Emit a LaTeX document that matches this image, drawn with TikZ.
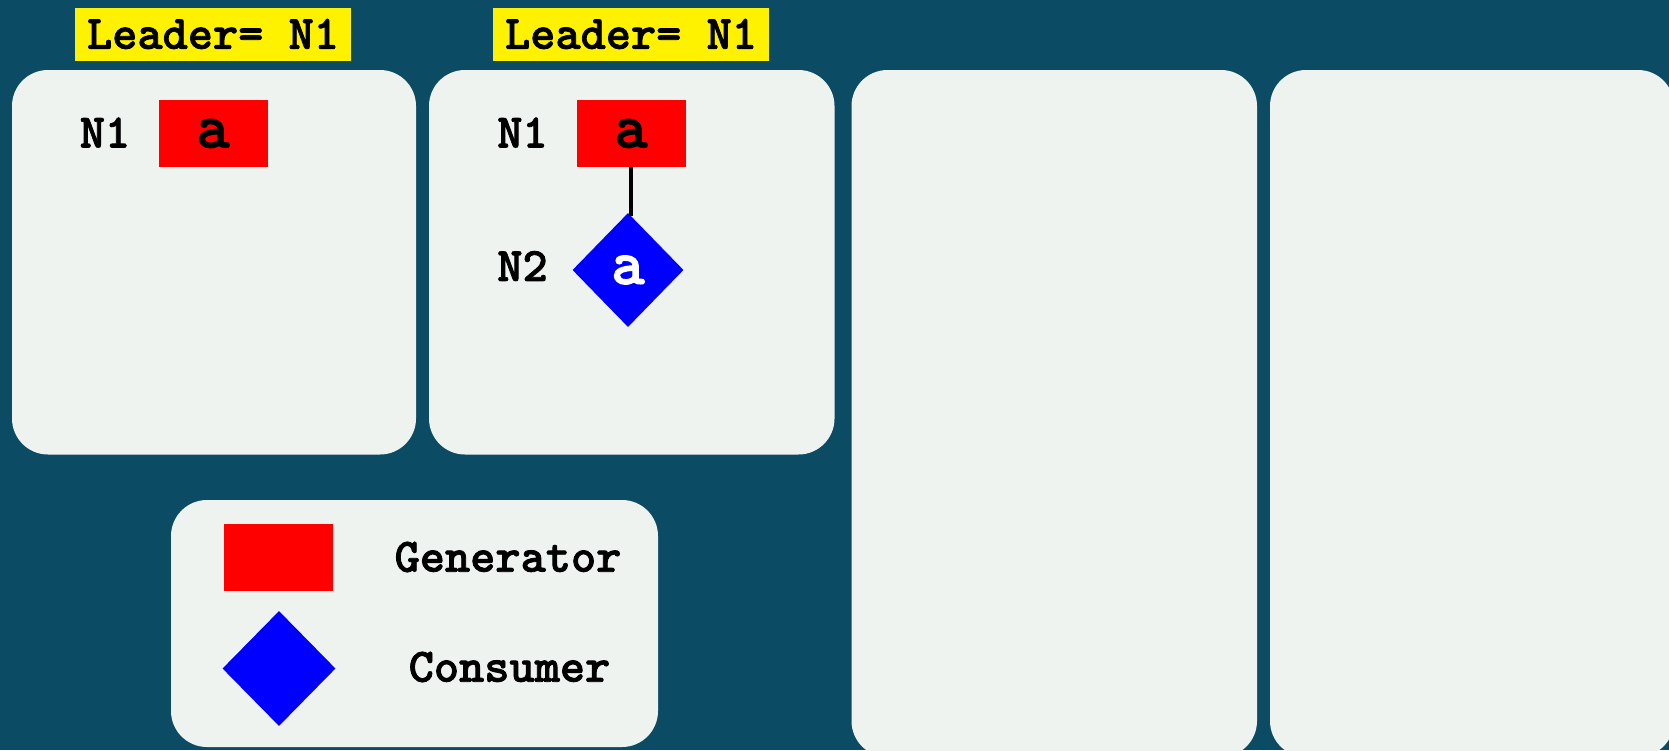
\documentclass[tikz,border=0pt]{standalone}
\usepackage{fontspec}
\newfontfamily\cour{lmmonolt10-bold.otf}[FakeBold=1.6]
\usetikzlibrary{shapes.geometric}
\definecolor{bg}{RGB}{11,75,99}
\definecolor{panel}{RGB}{239,243,240}
\begin{document}
\begin{tikzpicture}[x=1pt,y=-1pt,
 panelbox/.style={fill=panel, rounded corners=36pt, inner sep=0, draw=none},
 leaderlbl/.style={fill=yellow, minimum width=276pt, minimum height=53pt, inner sep=0, font=\cour\fontsize{48}{52}\selectfont},
 namelbl/.style={inner sep=0, font=\cour\fontsize{48}{52}\selectfont},
 gen/.style={rectangle, fill=red, minimum width=109pt, minimum height=67pt, inner sep=0, font=\cour\fontsize{64}{68}\selectfont},
 cons/.style={diamond, fill=blue, minimum width=111pt, minimum height=114pt, inner sep=0, text=white, font=\cour\fontsize{64}{68}\selectfont},
 link/.style={draw=black, line width=3.5pt}]
\fill[bg] (0,0) rectangle (1669,750);
\useasboundingbox (0,0) rectangle (1669,750);
% panels
\node[panelbox, minimum width=404pt, minimum height=384.5pt] (p1) at (214,262.25) {};
\node[panelbox, minimum width=405.5pt, minimum height=384.5pt] (p2) at (631.75,262.25) {};
\node[panelbox, minimum width=405.5pt, minimum height=687pt] (p3) at (1054.25,413.5) {};
\node[panelbox, minimum width=404pt, minimum height=687pt] (p4) at (1472,413.5) {};
\node[panelbox, minimum width=487pt, minimum height=247pt] (leg) at (414.5,623.5) {};
% leader labels
\node[leaderlbl] (l1) at (213,34) {Leader= N1};
\node[leaderlbl] (l2) at (631,34) {Leader= N1};
% panel 1
\node[namelbl] (n1a) at (105,132.5) {N1};
\node[gen] (r1) at (213,133.5) {a};
% panel 2
\node[namelbl] (n1b) at (522.5,132.5) {N1};
\node[gen] (r2) at (631,133.5) {a};
\node[namelbl] (n2b) at (522.5,266) {N2};
\node[cons] (d2) at (628,270) {a};
\draw[link] (r2.south) -- ([yshift=-3pt]r2.south |- d2.north);
% legend
\node[gen] (lg) at (278,557.5) {};
\node[cons, minimum width=113pt, minimum height=115pt] (lc) at (279,668.5) {};
\node[namelbl] (tg) at (508,557) {Generator};
\node[namelbl] (tc) at (509.5,667) {Consumer};
\end{tikzpicture}
\end{document}
